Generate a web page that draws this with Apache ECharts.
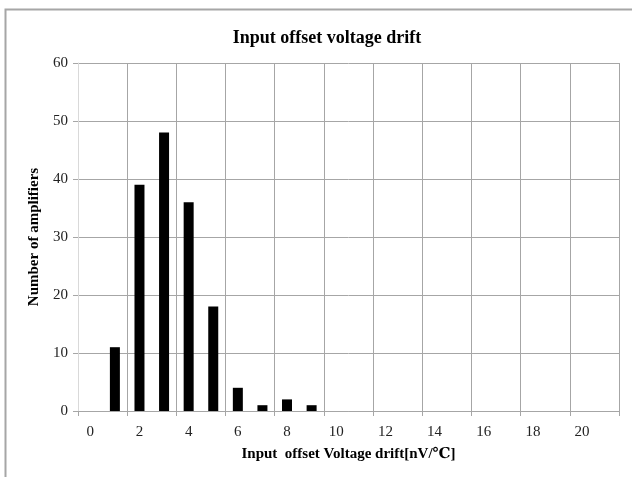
<!DOCTYPE html>
<html>
<head>
<meta charset="utf-8">
<script src="https://cdn.jsdelivr.net/npm/echarts@6/dist/echarts.min.js"></script>
<style>
  html, body { margin: 0; padding: 0; background: #fff; }
  #chart { width: 632px; height: 477px; }
</style>
</head>
<body>
<div id="chart"></div>
<script>
// drift buckets 0..21 nV/℃ (labels shown every 2)
var categories = ['0', '1', '2', '3', '4', '5', '6', '7', '8', '9', '10',
  '11', '12', '13', '14', '15', '16', '17', '18', '19', '20', '21'];
// number of amplifiers per bucket
var counts = [0, 11, 39, 48, 36, 18, 4, 1, 2, 1, 0,
  0, 0, 0, 0, 0, 0, 0, 0, 0, 0, 0];

var serif = '"Liberation Serif", "DejaVu Serif", serif';
var chart = echarts.init(document.getElementById('chart'));

var option = {
  animation: false,
  backgroundColor: '#fff',
  title: {
    text: 'Input offset voltage drift',
    left: 322,
    top: 24,
    textAlign: 'center',
    textStyle: { fontFamily: serif, fontSize: 18, fontWeight: 'bold', color: '#000' }
  },
  // outer chart frame
  graphic: [{
    type: 'rect',
    shape: { x: 5.5, y: 9.5, width: 640, height: 480 },
    style: { fill: 'none', stroke: '#a6a6a6', lineWidth: 2 },
    silent: true
  }],
  grid: { left: 78, right: 13, top: 63, bottom: 66 },
  xAxis: {
    type: 'category',
    data: categories,
    name: 'Input  offset Voltage drift[nV/℃]',
    nameLocation: 'middle',
    nameGap: 36,
    nameTextStyle: { fontFamily: serif, fontSize: 15, fontWeight: 'bold', color: '#000' },
    axisLine: { lineStyle: { color: '#a6a6a6', width: 1 } },
    axisTick: { show: true, interval: 1, length: 5, lineStyle: { color: '#a6a6a6' } },
    axisLabel: { interval: 1, margin: 14, fontFamily: serif, fontSize: 15, color: '#222' },
    splitLine: { show: true, interval: 1, lineStyle: { color: '#a6a6a6', width: 1 } }
  },
  yAxis: {
    type: 'value',
    min: 0,
    max: 60,
    interval: 10,
    name: 'Number of amplifiers',
    nameLocation: 'middle',
    nameGap: 36,
    nameTextStyle: { fontFamily: serif, fontSize: 15, fontWeight: 'bold', color: '#000' },
    axisLine: { show: true, lineStyle: { color: '#d9d9d9', width: 1 } },
    axisTick: { show: true, length: 5, lineStyle: { color: '#a6a6a6' } },
    axisLabel: { margin: 10, fontFamily: serif, fontSize: 15, color: '#222' },
    splitLine: { show: true, lineStyle: { color: '#a6a6a6', width: 1 } }
  },
  series: [{
    type: 'bar',
    data: counts,
    barWidth: 10,
    itemStyle: { color: '#000' }
  }]
};
chart.setOption(option);
</script>
</body>
</html>
